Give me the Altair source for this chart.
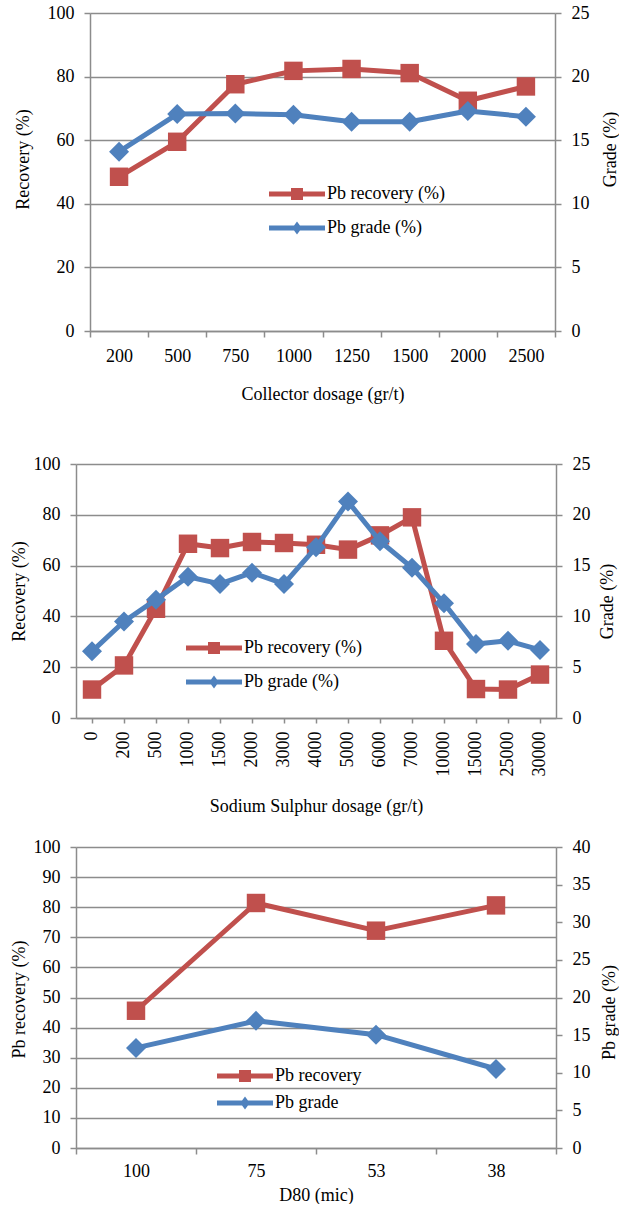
import altair as alt
import pandas as pd

RED = "#C0504D"
BLUE = "#4F81BD"
GRID = "#8C8C8C"
FONT = "Liberation Serif"

# Panel 1: collector dosage
collector_dosage = ["200", "500", "750", "1000", "1250", "1500", "2000", "2500"]
collector_recovery = [48.5, 59.5, 77.6, 81.8, 82.4, 81.1, 72.4, 76.9]
collector_grade = [14.1, 17.05, 17.1, 17.0, 16.45, 16.45, 17.3, 16.85]

# Panel 2: sodium sulphide dosage
sulphur_dosage = ["0", "200", "500", "1000", "1500", "2000", "3000", "4000",
                  "5000", "6000", "7000", "10000", "15000", "25000", "30000"]
sulphur_recovery = [11.2, 20.7, 43.0, 68.6, 66.9, 69.3, 68.9, 68.2,
                    66.3, 71.9, 79.0, 30.4, 11.4, 11.2, 17.1]
sulphur_grade = [6.56, 9.5, 11.65, 13.9, 13.2, 14.3, 13.2, 16.8,
                 21.3, 17.4, 14.8, 11.3, 7.28, 7.6, 6.7]

# Panel 3: grind size
d80 = ["100", "75", "53", "38"]
d80_recovery = [45.6, 81.4, 72.2, 80.6]
d80_grade = [13.3, 16.9, 15.06, 10.5]

# Legend glyphs: a thick line with the series marker on top
LEG_SQUARE = ("M-3.5,-0.32 L3.5,-0.32 L3.5,0.32 L-3.5,0.32 Z "
              "M-0.75,-0.75 L0.75,-0.75 L0.75,0.75 L-0.75,0.75 Z")
LEG_DIAMOND = ("M-3.5,-0.32 L3.5,-0.32 L3.5,0.32 L-3.5,0.32 Z "
               "M0,-0.8 L0.6,0 L0,0.8 L-0.6,0 Z")


def panel(cats, rec, grade, names, left_title, right_title, x_title,
          right_max, left_step, right_step, width, height,
          x_axis, legend_xy, legend_row_pad,
          left_title_pad, right_title_pad, left_title_y, right_title_y):
    n = len(cats)
    df = pd.DataFrame({
        "x": cats + cats,
        "value": rec + grade,
        "series": [names[0]] * n + [names[1]] * n,
    })
    base = alt.Chart(df)
    x_enc = alt.X("x:N", sort=cats, title=x_title, bandPosition=0.5,
                  scale=alt.Scale(type="band", paddingInner=0, paddingOuter=0),
                  axis=x_axis)

    rec_layer = base.transform_filter(alt.datum.series == names[0]).mark_line(
        color=RED, strokeWidth=5, strokeJoin="round",
        point=alt.OverlayMarkDef(shape="square", size=340, filled=True,
                                 color=RED, opacity=1),
    ).encode(
        x=x_enc,
        y=alt.Y("value:Q", title=left_title,
                scale=alt.Scale(domain=[0, 100], nice=False, zero=True),
                axis=alt.Axis(orient="left", values=list(range(0, 101, left_step)),
                              grid=True, tickSize=6, labelPadding=10,
                              titlePadding=left_title_pad, titleAngle=270,
                              titleY=left_title_y)),
    )

    grade_layer = base.transform_filter(alt.datum.series == names[1]).mark_line(
        color=BLUE, strokeWidth=5, strokeJoin="round",
        point=alt.OverlayMarkDef(shape="diamond", size=400, filled=True,
                                 color=BLUE, opacity=1),
    ).encode(
        x=x_enc,
        y=alt.Y("value:Q", title=right_title,
                scale=alt.Scale(domain=[0, right_max], nice=False, zero=True),
                axis=alt.Axis(orient="right",
                              values=list(range(0, right_max + 1, right_step)),
                              grid=False, tickSize=6, labelPadding=10,
                              titlePadding=right_title_pad, titleAngle=270,
                              titleBaseline="top", titleY=right_title_y)),
    )

    legend = alt.Legend(
        orient="none", legendX=legend_xy[0], legendY=legend_xy[1],
        title=None, direction="vertical", padding=0, offset=0,
        symbolSize=256, symbolStrokeWidth=0, labelOffset=21,
        rowPadding=legend_row_pad, labelFont=FONT, labelFontSize=18,
        labelColor="black", labelLimit=400,
    )
    key_layer = base.transform_filter("false").mark_point(
        filled=True, opacity=1
    ).encode(
        color=alt.Color("series:N", legend=legend,
                        scale=alt.Scale(domain=names, range=[RED, BLUE])),
        shape=alt.Shape("series:N", legend=legend,
                        scale=alt.Scale(domain=names, range=[LEG_SQUARE, LEG_DIAMOND])),
    )

    return alt.layer(rec_layer, grade_layer, key_layer).resolve_scale(
        y="independent"
    ).properties(width=width, height=height)


def blank(width, height):
    return alt.Chart(pd.DataFrame({"s": [0]})).mark_point(opacity=0).properties(
        width=width, height=height
    )


top = panel(
    collector_dosage, collector_recovery, collector_grade,
    ["Pb recovery (%)", "Pb grade (%)"],
    "Recovery (%)", "Grade (%)", "Collector dosage (gr/t)",
    25, 20, 5, 465, 318,
    alt.Axis(tickBand="extent", tickSize=6, labelPadding=10, labelAngle=0,
             titlePadding=20),
    (212, 172), 16, 15, 12, 146, 136,
)

middle = panel(
    sulphur_dosage, sulphur_recovery, sulphur_grade,
    ["Pb recovery (%)", "Pb grade (%)"],
    "Recovery (%)", "Grade (%)", "Sodium Sulphur dosage (gr/t)",
    25, 20, 5, 480, 254,
    alt.Axis(tickSize=5, labelPadding=8, labelAngle=270, titlePadding=21),
    (129, 175), 16, 5, 8, 127, 137,
)

bottom = panel(
    d80, d80_recovery, d80_grade,
    ["Pb recovery", "Pb grade"],
    "Pb recovery (%)", "Pb grade (%)", "D80 (mic)",
    40, 10, 5, 480, 301,
    alt.Axis(tickBand="extent", tickSize=6, labelPadding=8, labelAngle=0,
             titlePadding=6),
    (160, 220), 9, 5, 10, 152, 165,
)

# The first panel sits a little further right than the other two
top_row = alt.hconcat(blank(14, 318), top, spacing=0, bounds="flush")

chart = alt.vconcat(top_row, blank(10, 4), middle, bottom, spacing=23).resolve_scale(
    color="independent", shape="independent"
).resolve_legend(
    color="independent", shape="independent"
).properties(
    padding={"left": 9, "top": 4, "right": 0, "bottom": 0},
    background="white",
).configure_axis(
    labelFont=FONT, titleFont=FONT, labelFontSize=18, titleFontSize=18,
    titleFontWeight="normal", labelColor="black", titleColor="black",
    domainColor=GRID, tickColor=GRID, gridColor=GRID,
    domainWidth=1.5, tickWidth=1.5, gridWidth=1.5,
).configure_view(stroke=None)

chart.save("out.html", embed_options={"renderer": "svg", "actions": False})
